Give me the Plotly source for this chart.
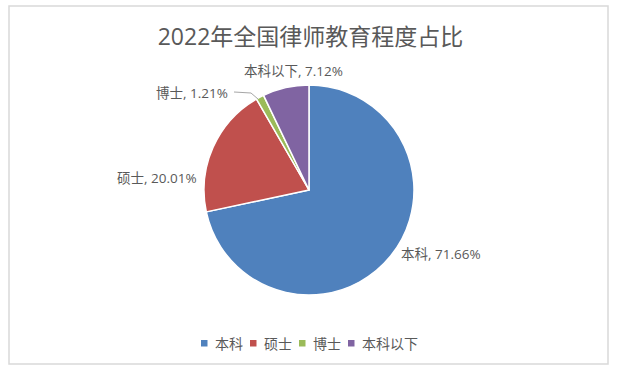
import plotly.graph_objects as go

categories = ["本科", "硕士", "博士", "本科以下"]
values = [71.66, 20.01, 1.21, 7.12]
colors = ["#4F81BD", "#C0504D", "#9BBB59", "#8064A2"]
title_text = "2022年全国律师教育程度占比"

W, H = 621, 378
FONT = "Open Sans, Noto Sans CJK SC, sans-serif"
GRAY = "#595959"

def px_x(x):
    return x / W

def px_y(y):
    return 1 - y / H

fig = go.Figure(go.Pie(
    labels=categories,
    values=values,
    sort=False,
    direction="clockwise",
    rotation=0,
    marker=dict(colors=colors, line=dict(color="white", width=1.5)),
    textinfo="none",
    hoverinfo="label+percent",
    showlegend=False,
    domain=dict(x=[px_x(204), px_x(414)], y=[px_y(295), px_y(85)]),
))

# data label positions (pixel centres)
label_pos = {
    "本科": (441, 254),
    "硕士": (157, 178),
    "博士": (192, 93),
    "本科以下": (293, 71),
}
for cat, v in zip(categories, values):
    x, y = label_pos[cat]
    fig.add_annotation(
        x=px_x(x), y=px_y(y), xref="paper", yref="paper",
        text=f"{cat}, {v:.2f}%", showarrow=False,
        font=dict(family=FONT, size=13.5, color=GRAY),
        xanchor="center", yanchor="middle",
    )

# leader line for the small slice
fig.add_shape(
    type="path", xref="paper", yref="paper",
    path=f"M {px_x(234)} {px_y(92)} L {px_x(251)} {px_y(93)} L {px_x(258)} {px_y(99)}",
    line=dict(color="#A6A6A6", width=1),
)

# legend (square + text per category)
legend_x = [201, 250, 299, 348]
for cat, col, lx in zip(categories, colors, legend_x):
    fig.add_shape(
        type="rect", xref="paper", yref="paper",
        x0=px_x(lx), x1=px_x(lx + 6.5), y0=px_y(346.5), y1=px_y(340),
        fillcolor=col, line=dict(width=0),
    )
    fig.add_annotation(
        x=px_x(lx + 12), y=px_y(343), xref="paper", yref="paper",
        text=cat, showarrow=False, xanchor="left", yanchor="middle",
        font=dict(family=FONT, size=14, color=GRAY),
    )

# chart border
fig.add_shape(
    type="rect", xref="paper", yref="paper",
    x0=px_x(9), x1=px_x(608), y0=px_y(364), y1=px_y(6),
    line=dict(color="#D9D9D9", width=1.5),
)

fig.update_layout(
    width=W, height=H, autosize=False,
    margin=dict(l=0, r=0, t=0, b=0),
    paper_bgcolor="white", plot_bgcolor="white",
    title=dict(text=title_text, x=0.5, xanchor="center", y=px_y(37), yanchor="middle",
               font=dict(family=FONT, size=23, color=GRAY)),
    showlegend=False,
)

fig.write_html("out.html", config={"displayModeBar": False},
               post_script="document.body.style.margin='0';")
